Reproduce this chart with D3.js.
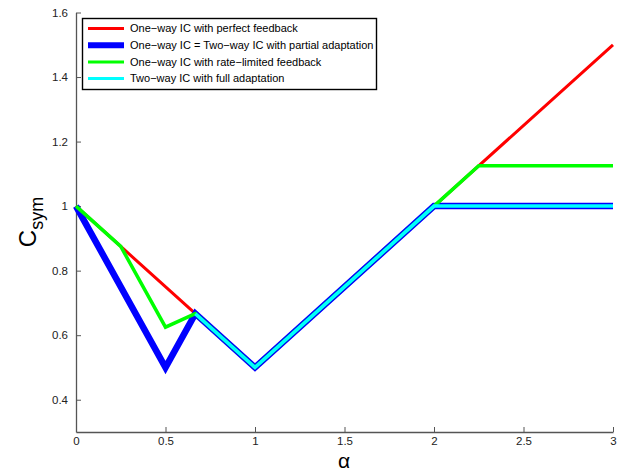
<!DOCTYPE html>
<html><head><meta charset="utf-8">
<script src="https://cdnjs.cloudflare.com/ajax/libs/d3/7.8.5/d3.min.js"></script>
<style>body{margin:0;background:#fff;}svg{display:block;font-family:"Liberation Sans",Arial,sans-serif;}</style>
</head><body><svg id="c" width="629" height="472"></svg>
<script>
const seriesNames = ["One\u2212way IC with perfect feedback","One\u2212way IC = Two\u2212way IC with partial adaptation","One\u2212way IC with rate\u2212limited feedback","Two\u2212way IC with full adaptation"];
const seriesColors = ["#ff0000","#0000ff","#00ff00","#00ffff"];
const seriesWidths = [3,6.5,3.5,3.5];
const redX = [0,0.25,2/3,1,2,3];
const redY = [1,0.875,2/3,0.5,1,1.5];
const blueX = [0,0.5,2/3,1,2,3];
const blueY = [1,0.5,2/3,0.5,1,1];
const greenX = [0,0.25,0.5,2/3,1,2,2.25,3];
const greenY = [1,0.875,0.625,2/3,0.5,1,1.125,1.125];
const cyanX = [2/3,1,2,3];
const cyanY = [2/3,0.5,1,1];
const xTicks = [0,0.5,1,1.5,2,2.5,3];
const yTicks = [0.4,0.6,0.8,1,1.2,1.4,1.6];

const svg = d3.select("#c");
const x = d3.scaleLinear().domain([0,3]).range([76,613]);
const y = d3.scaleLinear().domain([0.3,1.6]).range([432,12.5]);
const axisColor = "#555";

const gx = svg.append("g").attr("transform","translate(0,432)")
  .call(d3.axisBottom(x).tickValues(xTicks).tickFormat(d=>d3.format("~g")(d)).tickSizeInner(-5).tickSizeOuter(0).tickPadding(5));
const gy = svg.append("g").attr("transform","translate(76,0)")
  .call(d3.axisLeft(y).tickValues(yTicks).tickFormat(d=>d3.format("~g")(d)).tickSizeInner(-5).tickSizeOuter(0).tickPadding(8));
[gx,gy].forEach(g=>{
  g.selectAll("path").attr("stroke",axisColor).attr("stroke-width",1.3);
  g.selectAll("line").attr("stroke",axisColor);
  g.selectAll("text").attr("font-size",11.5).attr("fill","#222").attr("font-family","Liberation Sans, Arial, sans-serif");
});
gy.selectAll(".tick text").attr("dy","0.32em");

const data = [[redX,redY],[blueX,blueY],[greenX,greenY],[cyanX,cyanY]];
const line = d3.line().x(d=>x(d[0])).y(d=>y(d[1]));
data.forEach((s,i)=>{
  const pts = s[0].map((v,j)=>[v,s[1][j]]);
  svg.append("path").attr("d",line(pts)).attr("fill","none")
    .attr("stroke",seriesColors[i]).attr("stroke-width",seriesWidths[i]).attr("stroke-linejoin","miter");
});

// legend
const lg = svg.append("g");
lg.append("rect").attr("x",82.5).attr("y",18.5).attr("width",294).attr("height",71)
  .attr("fill","#fff").attr("stroke","#000").attr("stroke-width",1.4);
const legW = [3,6,3,3];
seriesNames.forEach((n,i)=>{
  const yy = 28.5 + i*16.7;
  lg.append("line").attr("x1",88).attr("x2",124).attr("y1",yy).attr("y2",yy)
    .attr("stroke",seriesColors[i]).attr("stroke-width",legW[i]);
  lg.append("text").attr("x",130).attr("y",yy).attr("dy","0.35em").attr("font-size",11).attr("fill","#000").text(n);
});

// axis labels
svg.append("text").attr("x",344).attr("y",468).attr("text-anchor","middle").attr("font-size",21).text("\u03b1");
const yl = svg.append("text").attr("transform","translate(36,222) rotate(-90)").attr("text-anchor","middle");
yl.append("tspan").attr("font-size",24).text("C");
yl.append("tspan").attr("font-size",18).attr("dy",7).text("sym");
</script></body></html>
